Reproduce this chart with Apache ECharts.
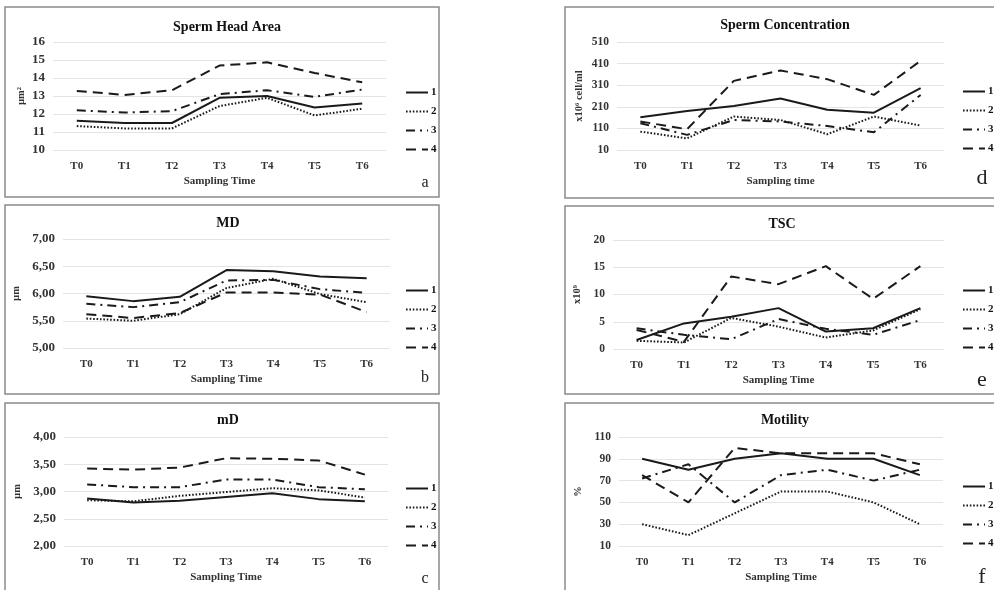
<!DOCTYPE html>
<html><head><meta charset="utf-8">
<script src="https://cdn.jsdelivr.net/npm/echarts@6/dist/echarts.min.js"></script>
<style>html,body{margin:0;padding:0;background:#fff}#c{width:994px;height:590px}</style>
</head><body><div id="c"></div>
<script>
const categories = ['T0','T1','T2','T3','T4','T5','T6'];
const seriesNames = ['1','2','3','4'];

// a: Sperm Head Area (µm²)
const headArea1 = [11.62, 11.5, 11.5, 12.9, 13.0, 12.36, 12.58];
const headArea2 = [11.33, 11.2, 11.2, 12.44, 12.9, 11.92, 12.29];
const headArea3 = [12.21, 12.08, 12.16, 13.1, 13.32, 12.95, 13.36];
const headArea4 = [13.28, 13.06, 13.32, 14.69, 14.87, 14.28, 13.76];
// b: MD (µm)
const md1 = [5.95, 5.86, 5.94, 6.43, 6.41, 6.31, 6.28];
const md2 = [5.54, 5.50, 5.62, 6.10, 6.27, 5.99, 5.84];
const md3 = [5.81, 5.75, 5.84, 6.24, 6.25, 6.08, 6.01];
const md4 = [5.62, 5.55, 5.64, 6.02, 6.02, 5.98, 5.66];
// c: mD (µm)
const mdMin1 = [2.87, 2.80, 2.83, 2.90, 2.97, 2.86, 2.82];
const mdMin2 = [2.84, 2.82, 2.92, 2.99, 3.06, 3.02, 2.89];
const mdMin3 = [3.13, 3.08, 3.08, 3.22, 3.22, 3.08, 3.04];
const mdMin4 = [3.42, 3.40, 3.44, 3.61, 3.60, 3.57, 3.31];
// d: Sperm Concentration (x10^6 cell/ml)
const conc1 = [162, 191, 214, 248, 196, 183, 296];
const conc2 = [95, 64, 165, 149, 83, 165, 123];
const conc3 = [134, 80, 149, 142, 121, 92, 265];
const conc4 = [142, 106, 330, 378, 338, 265, 423];
// e: TSC (x10^9)
const tsc1 = [1.65, 4.7, 5.9, 7.5, 3.2, 3.8, 7.5];
const tsc2 = [1.5, 1.2, 5.7, 4.1, 2.1, 3.4, 7.3];
const tsc3 = [3.8, 2.6, 1.8, 5.5, 3.7, 2.6, 5.3];
const tsc4 = [3.5, 1.3, 13.3, 11.9, 15.2, 9.2, 15.2];
// f: Motility (%)
const mot1 = [90, 80, 90, 95, 90, 90, 75];
const mot2 = [30, 20, 40, 60, 60, 50, 30];
const mot3 = [72, 85, 50, 75, 80, 70, 80];
const mot4 = [75, 50, 100, 95, 95, 95, 85];

const panels = [
  {title:'Sperm Head Area', xName:'Sampling Time', yName:'µm²', data:[headArea1,headArea2,headArea3,headArea4], min:10, max:16, interval:1, fmt:v=>String(v), letter:'a'},
  {title:'MD', xName:'Sampling Time', yName:'µm', data:[md1,md2,md3,md4], min:5, max:7, interval:0.5, fmt:v=>v.toFixed(2).replace('.',','), letter:'b'},
  {title:'mD', xName:'Sampling Time', yName:'µm', data:[mdMin1,mdMin2,mdMin3,mdMin4], min:2, max:4, interval:0.5, fmt:v=>v.toFixed(2).replace('.',','), letter:'c'},
  {title:'Sperm Concentration', xName:'Sampling time', yName:'x10⁶ cell/ml', data:[conc1,conc2,conc3,conc4], min:10, max:510, interval:100, fmt:v=>String(v), letter:'d'},
  {title:'TSC', xName:'Sampling Time', yName:'x10⁹', data:[tsc1,tsc2,tsc3,tsc4], min:0, max:20, interval:5, fmt:v=>String(v), letter:'e'},
  {title:'Motility', xName:'Sampling Time', yName:'%', data:[mot1,mot2,mot3,mot4], min:10, max:110, interval:20, fmt:v=>String(v), letter:'f'}
];

// layout
const grids = [
  {left:53, top:42, width:333, height:108},
  {left:63, top:239, width:327, height:109},
  {left:64, top:437, width:324, height:109},
  {left:617, top:42, width:327, height:108},
  {left:613, top:240, width:331, height:109},
  {left:619, top:437, width:324, height:109}
];
const titlePos = [[222,15],[223,211],[223,408],[780,13],[777,212],[780,408]];
const legendPos = [[400,82],[400,280],[400,478],[957,81],[957,280],[957,476]];
const yNameGap = [26,41,41,32,30,35];
const yLabelSize = [13,13,13,11.5,11.5,11.5];
const letterPos = [[425,183,16],[425,378,16],[425,579,16],[982,178,22],[982,380,22],[982,577,22]];
const boxes = [[5,7,434,190],[5,205,434,189],[5,403,434,200],[565,7,440,191],[565,206,440,188],[565,403,440,200]];

const FONT = '"Liberation Serif", "Times New Roman", serif';
const INK = '#1a1a1a';
const lineTypes = ['solid', [1.6,1.8], [9,5,2,5], [10,6]];

const option = {
  backgroundColor:'#fff',
  animation:false,
  title:[], grid:[], xAxis:[], yAxis:[], legend:[], series:[], graphic:[]
};

panels.forEach((p,i)=>{
  option.title.push({text:p.title, left:titlePos[i][0], top:titlePos[i][1], textAlign:'center',
    textStyle:{fontFamily:FONT, fontWeight:'bold', fontSize:14, color:'#111'}});
  option.grid.push(Object.assign({containLabel:false}, grids[i]));
  option.xAxis.push({type:'category', gridIndex:i, data:categories, boundaryGap:true,
    axisLine:{show:false}, axisTick:{show:false},
    axisLabel:{fontFamily:FONT, fontWeight:'bold', fontSize:11, color:'#333', margin:11},
    name:p.xName, nameLocation:'middle', nameGap:26,
    nameTextStyle:{fontFamily:FONT, fontWeight:'bold', fontSize:11, color:'#333'}});
  option.yAxis.push({type:'value', gridIndex:i, min:p.min, max:p.max, interval:p.interval,
    axisLine:{show:false}, axisTick:{show:false},
    splitLine:{lineStyle:{color:'#e4e4e4', width:1}},
    axisLabel:{fontFamily:FONT, fontWeight:'bold', fontSize:yLabelSize[i], color:'#333', margin:8, formatter:p.fmt},
    name:p.yName, nameLocation:'middle', nameGap:yNameGap[i], nameRotate:90,
    nameTextStyle:{fontFamily:FONT, fontWeight:'bold', fontSize:10.5, color:'#333'}});
  option.legend.push({orient:'vertical', left:legendPos[i][0], top:legendPos[i][1],
    data:seriesNames, itemWidth:22, itemHeight:10, itemGap:8, selectedMode:false,
    itemStyle:{color:'rgba(0,0,0,0)', borderColor:'rgba(0,0,0,0)', borderWidth:0, opacity:0},
    textStyle:{fontFamily:FONT, fontWeight:'bold', fontSize:11, color:'#111', padding:[0,0,0,-2]}});
  p.data.forEach((d,k)=>{
    option.series.push({type:'line', name:seriesNames[k], xAxisIndex:i, yAxisIndex:i, data:d,
      symbol:'none', smooth:false,
      lineStyle:{color:INK, width:2, type:lineTypes[k]}, itemStyle:{color:INK}});
  });
  option.graphic.push({type:'rect', shape:{x:boxes[i][0], y:boxes[i][1], width:boxes[i][2], height:boxes[i][3]},
    style:{fill:null, stroke:'#8a8a8a', lineWidth:1.5}, silent:true});
  option.graphic.push({type:'text', x:letterPos[i][0], y:letterPos[i][1],
    style:{text:p.letter, font:letterPos[i][2]+'px '+FONT, fill:'#222', align:'center', verticalAlign:'middle'}});
});

const chart = echarts.init(document.getElementById('c'), null, {renderer:'canvas'});
chart.setOption(option);
</script>
</body></html>
